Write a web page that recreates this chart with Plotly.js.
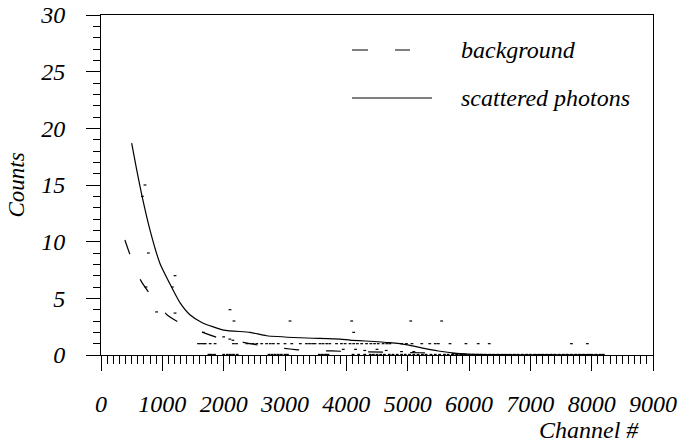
<!DOCTYPE html>
<html>
<head>
<meta charset="utf-8">
<script src="https://cdn.plot.ly/plotly-3.0.1.min.js"></script>
<style>html,body{margin:0;padding:0;background:#fff;}#chart{width:693px;height:443px;}</style>
</head>
<body>
<div id="chart"></div>
<script>
// scattered photons fit curve
const photonChannel = [500, 580, 670, 800, 960, 1150, 1290, 1450, 1650, 2000, 2430, 2700, 3250, 3900, 4060, 4700, 5000, 5250, 5500, 5800, 6100, 6500, 7000, 8190];
const photonCounts  = [18.7, 16.4, 14.0, 11.0, 8.1, 6.0, 4.6, 3.55, 2.85, 2.2, 2.0, 1.7, 1.52, 1.4, 1.32, 1.09, 0.9, 0.6, 0.35, 0.15, 0.05, 0.03, 0.02, 0.02];

// background fit curve
const bgChannel = [390, 470, 650, 790, 1080, 1280, 1670, 1940, 2320, 2650, 3080, 3330, 3760, 4060, 4600, 5200, 5700, 6200, 7000, 8190];
const bgCounts  = [10.15, 8.9, 6.56, 5.45, 3.53, 2.85, 1.97, 1.47, 1.12, 0.79, 0.53, 0.4, 0.36, 0.3, 0.25, 0.2, 0.12, 0.05, 0.03, 0.03];

// raw channel counts (dots)
const rawChannelHigh = [674, 717, 772, 733, 1163, 1207, 907, 1207, 1668, 2000, 2103, 2168, 3082, 4087, 4120, 5050, 5554, 2100, 2150, 3950, 4150, 4300, 4500, 4650, 4900, 5100];
const rawCountsHigh  = [14, 15, 9, 6, 6, 7, 3.8, 3.7, 2, 1.6, 4, 3, 3, 3, 2, 3, 3, 1.4, 1.3, 0.5, 0.5, 0.4, 0.5, 0.4, 0.3, 0.3];

const rawChannelOne = [1590, 1630, 1670, 1700, 1780, 1860, 2160, 2210, 2380, 2430, 2480, 2540, 2620, 2700, 2760, 2810, 2890, 3000, 3110, 3250, 3350, 3400, 3450, 3490, 3570, 3620, 3680, 3730, 3840, 3920, 3980, 4060, 4120, 4180, 4250, 4330, 4400, 4460, 4520, 4600, 4660, 4710, 4900, 4980, 5070, 5230, 5360, 5450, 5500, 5690, 5950, 6150, 6330, 7670, 7930];
const rawCountsOne  = [1, 1, 1, 1, 1, 1, 1, 1, 1, 1, 1, 1, 1, 1, 1, 1, 1, 1, 1, 1, 1, 1, 1, 1, 1, 1, 1, 1, 1, 1, 1, 1, 1, 1, 1, 1, 1, 1, 1, 1, 1, 1, 1, 1, 1, 1, 1, 1, 1, 1, 1, 1, 1, 1, 1];

const rawChannelZero = [1760, 1800, 1850, 2000, 2060, 2110, 2160, 2220, 2740, 2790, 2840, 2890, 2940, 3000, 3040, 3560, 3610, 3660, 3700, 4110, 4200, 4300, 4390, 4440, 4500, 4560, 4620, 4700, 4760, 4830, 4900, 4960, 5030, 5100, 5170, 5240, 5300, 5380, 5450, 5520, 5600, 5660, 5730, 5800, 5870, 5930, 6000, 6070, 6140, 6200, 6270, 6340, 6400, 6470, 6540, 6600, 6670, 6740, 6800, 6870, 6940, 7000, 7070, 7140, 7200, 7270, 7340, 7400, 7470, 7540, 7600, 7670, 7740, 7800, 7870, 7940, 8000, 8070, 8140, 8190];
const rawCountsZero  = [0.05, 0.05, 0.05, 0.05, 0.05, 0.05, 0.05, 0.05, 0.05, 0.05, 0.05, 0.05, 0.05, 0.05, 0.05, 0.05, 0.05, 0.05, 0.05, 0.05, 0.05, 0.05, 0.05, 0.05, 0.05, 0.05, 0.05, 0.05, 0.05, 0.05, 0.05, 0.05, 0.05, 0.05, 0.05, 0.05, 0.05, 0.05, 0.05, 0.05, 0.05, 0.05, 0.05, 0.05, 0.05, 0.05, 0.05, 0.05, 0.05, 0.05, 0.05, 0.05, 0.05, 0.05, 0.05, 0.05, 0.05, 0.05, 0.05, 0.05, 0.05, 0.05, 0.05, 0.05, 0.05, 0.05, 0.05, 0.05, 0.05, 0.05, 0.05, 0.05, 0.05, 0.05, 0.05, 0.05, 0.05, 0.05, 0.05, 0.05];

const xTickVals = [0, 1000, 2000, 3000, 4000, 5000, 6000, 7000, 8000, 9000];
const yTickVals = [0, 5, 10, 15, 20, 25, 30];
const legendNames = ["background", "scattered photons"];

const serif = "Liberation Serif, serif";
const dotMarker = {symbol: 'line-ew', size: 2, line: {width: 1.2, color: '#000'}, color: '#000'};

const traces = [
  {x: rawChannelHigh.concat(rawChannelOne, rawChannelZero),
   y: rawCountsHigh.concat(rawCountsOne, rawCountsZero),
   mode: 'markers', type: 'scatter', marker: dotMarker, name: 'data', showlegend: false},
  {x: bgChannel, y: bgCounts, mode: 'lines', type: 'scatter', name: legendNames[0],
   line: {color: '#000', width: 1.2, dash: '15px,27px', shape: 'spline', smoothing: 0.6}},
  {x: photonChannel, y: photonCounts, mode: 'lines', type: 'scatter', name: legendNames[1],
   line: {color: '#000', width: 1.2, shape: 'spline', smoothing: 0.6}}
];

// legend drawn by hand (paper coords): plot area l=101, r=653, t=15, b=355
const W = 552, H = 340;
const px = v => (v - 101) / W;
const py = v => (355 - v) / H;
const tf = () => ({family: serif, size: 24, style: 'italic', color: '#000'});

const layout = {
  width: 693, height: 443,
  margin: {l: 101, r: 40, t: 15, b: 88},
  paper_bgcolor: '#fff', plot_bgcolor: '#fff',
  showlegend: false,
  font: {family: serif, color: '#000'},
  xaxis: {
    range: [0, 9000], tickvals: xTickVals, ticktext: xTickVals.map(String),
    showgrid: false, zeroline: false, showline: true, linecolor: '#000', linewidth: 1, mirror: true,
    ticks: 'outside', ticklen: 15, tickwidth: 1, tickcolor: '#000',
    minor: {dtick: 100, tick0: 0, ticks: 'outside', ticklen: 8, tickwidth: 1, tickcolor: '#000', showgrid: false},
    tickfont: tf(),
    ticklabelstandoff: 12
  },
  yaxis: {
    range: [0, 30], tickvals: yTickVals, ticktext: yTickVals.map(String),
    showgrid: false, zeroline: false, showline: true, linecolor: '#000', linewidth: 1, mirror: true,
    ticks: 'outside', ticklen: 14, tickwidth: 1, tickcolor: '#000',
    minor: {dtick: 1, tick0: 0, ticks: 'outside', ticklen: 7, tickwidth: 1, tickcolor: '#000', showgrid: false},
    tickfont: tf(),
    ticklabelstandoff: 16,
    title: {text: 'Counts', font: {family: serif, size: 23, style: 'italic', color: '#000'}, standoff: 9}
  },
  shapes: [
    {type: 'line', xref: 'paper', yref: 'paper', x0: px(352), x1: px(410), y0: py(50), y1: py(50),
     line: {color: '#000', width: 1.2, dash: '16px,27px'}},
    {type: 'line', xref: 'paper', yref: 'paper', x0: px(352), x1: px(432), y0: py(98), y1: py(98),
     line: {color: '#000', width: 1.2}}
  ],
  annotations: [
    {xref: 'paper', yref: 'paper', x: px(459), y: py(50), xanchor: 'left', yanchor: 'middle', showarrow: false,
     text: legendNames[0], font: tf()},
    {xref: 'paper', yref: 'paper', x: px(459), y: py(98), xanchor: 'left', yanchor: 'middle', showarrow: false,
     text: legendNames[1], font: tf()},
    {xref: 'paper', yref: 'paper', x: px(589), y: py(430), xanchor: 'center', yanchor: 'middle', showarrow: false,
     text: 'Channel #', font: tf()}
  ]
};

Plotly.newPlot('chart', traces, layout, {displayModeBar: false, staticPlot: true});
</script>
</body>
</html>
